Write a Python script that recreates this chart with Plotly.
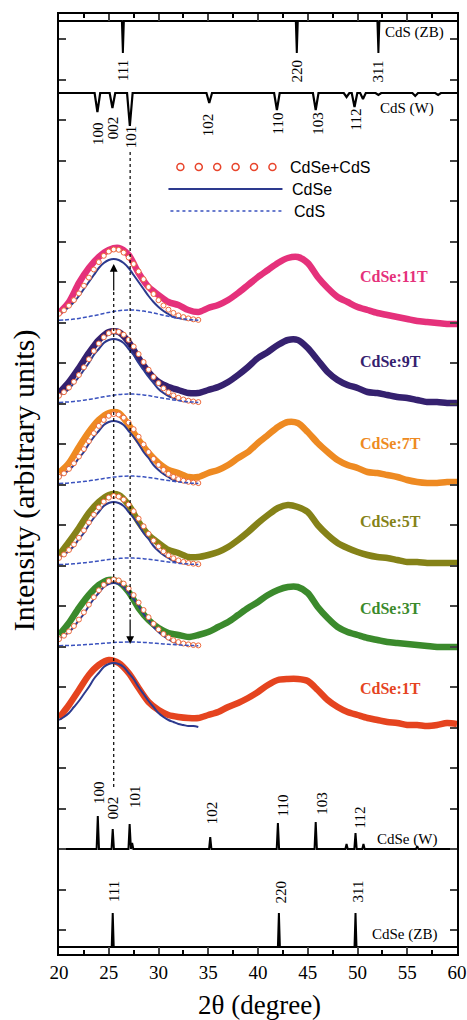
import plotly.graph_objects as go

# ---------------- data (arbitrary intensity units, stacked) ----------------
two_theta = [20, 21, 22, 23, 24, 25, 26, 27, 28, 29, 30, 31, 32, 33, 34, 35, 36, 37, 38, 39, 40,
             41, 42, 43, 44, 45, 46, 47, 48, 49, 50, 51, 52, 53, 54, 55, 56, 57, 58, 59, 60]

samples = ["CdSe:11T", "CdSe:9T", "CdSe:7T", "CdSe:5T", "CdSe:3T", "CdSe:1T"]
sample_colors = ["#E5317B", "#35216F", "#EE8A22", "#858218", "#3B8A2C", "#E5441F"]

int_11T = [641, 652, 671, 686, 697, 704, 706, 699, 681, 667, 659, 652, 649, 644, 642, 646, 649, 654, 661, 669, 677,
           684, 691, 696, 697, 691, 677, 666, 657, 652, 647, 644, 641, 639, 637, 635, 633, 632, 631, 630, 630]
int_9T = [561, 572, 586, 601, 614, 622, 622, 612, 596, 582, 572, 567, 564, 561, 561, 564, 567, 572, 579, 587, 596,
          602, 609, 614, 614, 606, 594, 582, 574, 569, 566, 562, 561, 559, 557, 556, 554, 552, 552, 551, 551]
int_7T = [481, 491, 507, 522, 534, 541, 541, 529, 514, 501, 491, 484, 481, 477, 477, 481, 484, 489, 496, 502, 511,
          519, 527, 532, 531, 522, 511, 502, 494, 489, 486, 482, 481, 479, 477, 474, 472, 471, 471, 472, 472]
int_5T = [399, 412, 426, 441, 452, 459, 459, 449, 432, 419, 411, 404, 401, 397, 397, 399, 402, 407, 414, 422, 431,
          439, 446, 449, 447, 442, 429, 419, 411, 406, 402, 399, 397, 396, 394, 392, 392, 391, 391, 391, 391]
int_3T = [319, 331, 346, 359, 369, 374, 372, 362, 346, 334, 326, 321, 319, 317, 319, 322, 327, 332, 339, 346, 352,
          359, 364, 367, 367, 361, 347, 336, 327, 322, 319, 316, 314, 312, 311, 310, 309, 308, 307, 307, 307]
int_1T = [236, 249, 264, 279, 289, 294, 291, 281, 266, 252, 244, 239, 237, 236, 236, 239, 242, 247, 251, 256, 262,
          269, 274, 275, 275, 273, 264, 254, 247, 242, 239, 236, 234, 232, 231, 229, 229, 228, 229, 231, 230]
sample_data = [int_11T, int_9T, int_7T, int_5T, int_3T, int_1T]

# fitted components
fit_theta = [20, 20.5, 21, 21.5, 22, 22.5, 23, 23.5, 24, 24.5, 25, 25.5, 26, 26.5, 27, 27.5, 28, 28.5,
             29, 29.5, 30, 30.5, 31, 31.5, 32, 32.5, 33, 33.5, 34]

fit_total_11T = [640.3, 643.7, 648.3, 653.9, 660.6, 668.3, 676.4, 684.5, 691.9, 698.2, 702.5, 704.5, 704.2, 701.4, 696.5,
                 690, 682.6, 674.8, 667, 660, 653.8, 648.5, 644.3, 641.1, 638.6, 636.9, 635.6, 634.7, 634.1]
fit_cdse_11T = [640, 643, 647, 652, 658, 665, 672, 679, 686, 691, 694, 695, 694, 691, 686, 679, 672, 665, 658, 652,
                647, 643, 640, 637, 636, 635, 634, 634, 633]
fit_cds_11T = [633.7, 634, 634.4, 634.9, 635.6, 636.4, 637.3, 638.4, 639.4, 640.6, 641.6, 642.5, 643.3, 643.8, 644,
               643.9, 643.5, 642.9, 642, 641, 639.9, 638.8, 637.7, 636.8, 635.9, 635.2, 634.6, 634.1, 633.8]

fit_total_9T = [558.3, 561.8, 566.4, 572.2, 579, 586.7, 594.8, 603, 610.5, 616.7, 620.8, 622.8, 622.2, 619.3, 614.2,
                607.5, 599.9, 592, 584.3, 577.1, 570.9, 565.7, 561.7, 558.6, 556.2, 554.5, 553.3, 552.5, 551.9]
fit_cdse_9T = [558, 561, 565, 571, 577, 584, 591, 599, 605, 611, 614, 615, 614, 611, 605, 599, 591, 584, 577, 571,
               565, 561, 558, 556, 554, 553, 552, 552, 551]
fit_cds_9T = [551.5, 551.8, 552.1, 552.6, 553.1, 553.8, 554.5, 555.4, 556.3, 557.2, 558, 558.8, 559.4, 559.8, 560,
              559.9, 559.6, 559.1, 558.4, 557.5, 556.6, 555.7, 554.9, 554.1, 553.4, 552.8, 552.3, 551.9, 551.6]

fit_total_7T = [477.2, 480.6, 485.1, 490.7, 497.4, 504.9, 512.8, 520.8, 528.1, 534, 538.2, 539.9, 539.4, 536.3, 531.4,
                524.8, 517.3, 509.6, 502, 495.1, 489.1, 484.1, 480.1, 477.1, 474.9, 473.3, 472.2, 471.4, 470.9]
fit_cdse_7T = [477, 480, 484, 489, 496, 502, 510, 517, 523, 529, 532, 533, 532, 529, 523, 517, 510, 502, 496, 489,
               484, 480, 477, 474, 473, 472, 471, 471, 470]
fit_cds_7T = [470.5, 470.7, 471, 471.4, 471.9, 472.5, 473.1, 473.9, 474.7, 475.5, 476.3, 476.9, 477.5, 477.8, 478,
              477.9, 477.6, 477.2, 476.5, 475.8, 475, 474.2, 473.4, 472.7, 472.1, 471.6, 471.2, 470.8, 470.6]

fit_total_5T = [396.1, 399.5, 404, 409.5, 416.2, 423.6, 431.5, 439.3, 446.5, 452.3, 456.4, 458.1, 457.4, 454.4, 449.4,
                442.8, 435.4, 427.7, 420.2, 413.4, 407.5, 402.6, 398.7, 395.8, 393.6, 392.1, 391, 390.3, 389.8]
fit_cdse_5T = [396, 399, 403, 408, 415, 421, 429, 436, 442, 448, 451, 452, 451, 448, 442, 436, 429, 421, 415, 408,
               403, 399, 396, 393, 392, 391, 390, 390, 389]
fit_cds_5T = [389.4, 389.6, 389.9, 390.2, 390.7, 391.2, 391.8, 392.4, 393.1, 393.8, 394.5, 395.1, 395.5, 395.9, 396,
              395.9, 395.7, 395.3, 394.7, 394.1, 393.4, 392.7, 392, 391.4, 390.8, 390.4, 390, 389.7, 389.5]

fit_total_3T = [314.9, 318.3, 322.6, 328, 334.4, 341.6, 349.3, 356.8, 363.7, 369.2, 373, 374.5, 373.6, 370.4, 365.4,
                358.9, 351.5, 344, 336.8, 330.2, 324.6, 320, 316.4, 313.8, 311.9, 310.5, 309.6, 309, 308.6]
fit_cdse_3T = [315, 318, 322, 327, 334, 340, 348, 355, 361, 367, 370, 371, 370, 367, 361, 355, 348, 340, 334, 327,
               322, 318, 315, 312, 311, 310, 309, 309, 308]
fit_cds_3T = [308.2, 308.4, 308.5, 308.7, 308.9, 309.2, 309.6, 309.9, 310.3, 310.7, 311.1, 311.5, 311.7, 311.9, 312,
              312, 311.8, 311.6, 311.3, 310.9, 310.5, 310.1, 309.7, 309.4, 309.1, 308.8, 308.6, 308.4, 308.3]

fit_cdse_1T = [234, 237, 241, 247, 253, 260, 267, 275, 281, 287, 290, 291, 290, 287, 281, 275, 267, 260, 253, 247,
               241, 237, 234, 232, 230, 229, 228, 228, 227]

fits_total = [fit_total_11T, fit_total_9T, fit_total_7T, fit_total_5T, fit_total_3T, None]
fits_cdse = [fit_cdse_11T, fit_cdse_9T, fit_cdse_7T, fit_cdse_5T, fit_cdse_3T, fit_cdse_1T]
fits_cds = [fit_cds_11T, fit_cds_9T, fit_cds_7T, fit_cds_5T, fit_cds_3T, None]

# reference stick patterns: positions (2theta), relative intensities, labels
cds_zb_pos = [26.42, 43.9, 52.1]
cds_zb_int = [32, 32, 32]
cds_zb_lab = ["111", "220", "311"]

cds_w_pos = [23.86, 25.37, 27.12, 35.1, 41.9, 45.8, 48.9, 49.7, 50.55, 52.1, 55.8, 58.1]
cds_w_int = [19, 15, 33, 10, 17, 17, 4, 14, 6, 2, 3, 2]
cds_w_lab = ["100", "002", "101", "102", "110", "103", "112"]

cdse_w_pos = [23.9, 25.4, 27.1, 27.35, 35.2, 42.0, 45.8, 48.9, 49.8, 50.6, 56.0]
cdse_w_int = [33, 20, 25, 6, 12, 26, 27, 5, 16, 5, 3]
cdse_w_lab = ["100", "002", "101", "102", "110", "103", "112"]

cdse_zb_pos = [25.4, 42.1, 49.8]
cdse_zb_int = [34, 34, 34]
cdse_zb_lab = ["111", "220", "311"]

# ---------------- styling / layout constants ----------------
SERIF = "Liberation Serif, Times New Roman, serif"
SANS = "Liberation Sans, Arial, sans-serif"
BLUE = "#2D3A8E"
BLUE_D = "#3A52BE"
CIRC = "#EE6A3C"

fig = go.Figure()


def sticks(pos, inten, base, sign, w, width):
    xs, ys = [20], [base]
    for p, i in sorted(zip(pos, inten)):
        xs += [p - w, p, p + w]
        ys += [base, base + sign * i, base]
    xs.append(60)
    ys.append(base)
    fig.add_trace(go.Scatter(x=xs, y=ys, mode="lines", line=dict(color="black", width=width),
                             hoverinfo="skip", showlegend=False))


sticks(cds_zb_pos, cds_zb_int, 933, -1, 0.1, 2)
sticks(cds_w_pos, cds_w_int, 861, -1, 0.28, 2.2)
sticks(cdse_w_pos, cdse_w_int, 105, 1, 0.12, 2)
sticks(cdse_zb_pos, cdse_zb_int, 7, 1, 0.1, 2)

for name, col, dat, ft, fse, fs in zip(samples, sample_colors, sample_data, fits_total, fits_cdse, fits_cds):
    fig.add_trace(go.Scatter(x=two_theta, y=dat, mode="lines", name=name,
                             line=dict(color=col, width=6.5, shape="spline", smoothing=0.8),
                             showlegend=False))
    fig.add_trace(go.Scatter(x=fit_theta, y=fse, mode="lines", line=dict(color=BLUE, width=2, shape="spline"),
                             showlegend=False))
    if ft is not None:
        fig.add_trace(go.Scatter(x=fit_theta, y=ft, mode="markers",
                                 marker=dict(symbol="circle", size=5, color="white",
                                             line=dict(color=CIRC, width=1)),
                                 showlegend=False))
    if fs is not None:
        fig.add_trace(go.Scatter(x=fit_theta, y=fs, mode="lines",
                                 line=dict(color=BLUE_D, width=1.5, dash="4px,2px", shape="spline"),
                                 showlegend=False))

ann = []


def lab(x, y, t, size=15, angle=-90, font=SERIF, color="black", xanchor="center", bold=False):
    ann.append(dict(x=x, y=y, xref="x", yref="y", text=("<b>%s</b>" % t) if bold else t,
                    showarrow=False, textangle=angle, xanchor=xanchor, yanchor="middle",
                    font=dict(family=font, size=size, color=color)))


# stick labels
for p, t in zip([26.44, 43.87, 52.1], cds_zb_lab):
    lab(p, 883, t)
for p, y, t in zip([23.93, 25.44, 27.25, 35.0, 42.05, 46.0, 49.8], [820, 826, 817, 829, 831, 831, 834], cds_w_lab):
    lab(p, y, t)
for p, y, t in zip([24.03, 25.44, 27.65, 35.4, 42.56, 46.4, 50.3], [161, 146, 157, 141, 149, 151, 137], cdse_w_lab):
    lab(p, y, t)
for p, t in zip([25.54, 42.36, 50.0], cdse_zb_lab):
    lab(p, 62, t)

lab(58.9, 922, "CdS (ZB)", angle=0, xanchor="right")
lab(57.9, 846, "CdS (W)", angle=0, xanchor="right")
lab(58.2, 115, "CdSe (W)", angle=0, xanchor="right")
lab(58.2, 20, "CdSe (ZB)", angle=0, xanchor="right")

for name, col, y in zip(samples, sample_colors, [678, 593, 511, 433, 346, 266]):
    lab(50.0, y, name, size=16, angle=0, color=col, xanchor="left", bold=True)

# legend (drawn by hand)
for k in range(6):
    cx = 32.2 + 1.85 * k
    fig.add_shape(type="circle", xref="x", yref="y", xsizemode="pixel", ysizemode="pixel",
                  xanchor=cx, yanchor=787, x0=-3.5, x1=3.5, y0=-3.5, y1=3.5,
                  line=dict(color="#E8452C", width=1.5), fillcolor="white")
fig.add_shape(type="line", xref="x", yref="y", x0=31.0, x1=42.46, y0=765, y1=765,
              line=dict(color=BLUE, width=2))
fig.add_shape(type="line", xref="x", yref="y", x0=31.2, x1=42.46, y0=743, y1=743,
              line=dict(color=BLUE_D, width=1.5, dash="dot"))
lab(43.05, 787, "CdSe+CdS", size=16, angle=0, font=SANS, xanchor="left")
lab(43.2, 765, "CdSe", size=16, angle=0, font=SANS, xanchor="left")
lab(43.4, 743, "CdS", size=16, angle=0, font=SANS, xanchor="left")

# guide lines and arrows
fig.add_shape(type="line", xref="x", yref="y", x0=25.5, x1=25.5, y0=167, y1=662,
              line=dict(color="black", width=1.2, dash="dot"))
fig.add_shape(type="line", xref="x", yref="y", x0=27.15, x1=27.15, y0=802, y1=336,
              line=dict(color="black", width=1.2, dash="dot"))
ann.append(dict(x=25.5, y=690, ax=25.5, ay=662, xref="x", yref="y", axref="x", ayref="y",
                showarrow=True, arrowhead=2, arrowsize=1.3, arrowwidth=1.2, arrowcolor="black", text=""))
ann.append(dict(x=27.15, y=310, ax=27.15, ay=336, xref="x", yref="y", axref="x", ayref="y",
                showarrow=True, arrowhead=2, arrowsize=1.3, arrowwidth=1.2, arrowcolor="black", text=""))

# axis titles
ann.append(dict(x=0.505, y=-0.054, xref="paper", yref="paper", text="2θ (degree)", showarrow=False,
                xanchor="center", yanchor="middle", font=dict(family=SERIF, size=27, color="black")))
ann.append(dict(x=-0.088, y=0.504, xref="paper", yref="paper", text="Intensity (arbitrary units)",
                showarrow=False, textangle=-90, xanchor="center", yanchor="middle",
                font=dict(family=SERIF, size=30, color="black")))

fig.update_layout(
    width=467, height=1020, autosize=False,
    margin=dict(l=59, r=10, t=14, b=66, autoexpand=False),
    paper_bgcolor="white", plot_bgcolor="white",
    annotations=ann, showlegend=False,
    xaxis=dict(range=[20, 60], tickmode="linear", tick0=20, dtick=5, ticks="inside", ticklen=7,
               tickwidth=1.5, showline=True, linewidth=1.5, linecolor="black", mirror="ticks",
               showgrid=False, zeroline=False, automargin=False,
               tickfont=dict(family=SERIF, size=19, color="black"),
               minor=dict(dtick=2.5, ticks="inside", ticklen=4, tickwidth=1.5, tickcolor="black", showgrid=False)),
    yaxis=dict(range=[0, 940], tickmode="linear", tick0=24, dtick=40.5, ticks="inside", ticklen=7,
               tickwidth=1.5, showline=True, linewidth=1.5, linecolor="black", mirror="ticks",
               showticklabels=False, showgrid=False, zeroline=False, automargin=False),
)

fig.write_html("out.html",
               config={"displayModeBar": False, "responsive": False},
               post_script="document.body.style.margin='0';document.body.style.padding='0';"
                           "document.body.style.overflow='hidden';"
                           "document.documentElement.style.overflow='hidden';")
